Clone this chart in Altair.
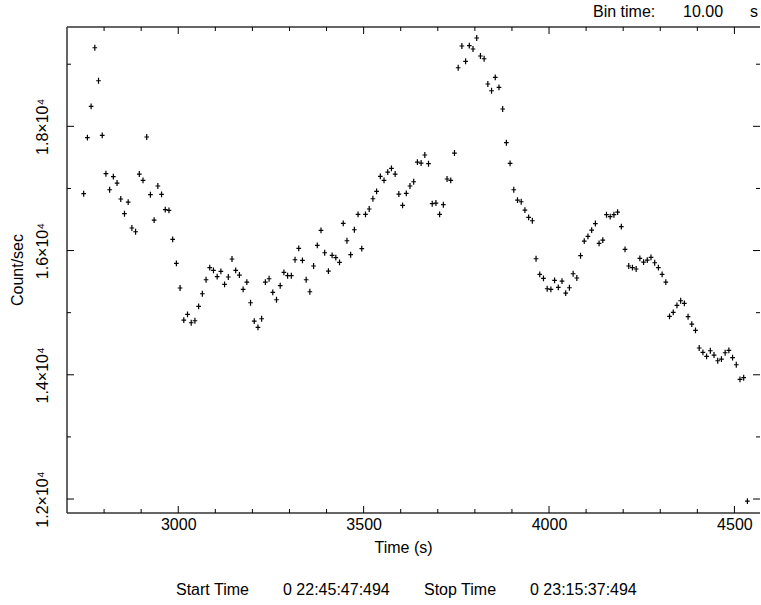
import altair as alt
import pandas as pd

# ---- data -----------------------------------------------------------
t_start = 2745          # centre of first 10 s bin
bin_time = 10
rates = [
    16915, 17817, 18322, 19265, 18734, 17855, 17237, 16979, 17189, 17087,
    16830, 16593, 16781, 16363, 16303, 17232, 17131, 17828, 16899, 16491,
    17039, 16905, 16658, 16648, 16181, 15795, 15397, 14881, 14973, 14838,
    14870, 15102, 15305, 15530, 15724, 15682, 15579, 15666, 15456, 15574,
    15864, 15682, 15606, 15376, 15493, 15160, 14865, 14764, 14902, 15493,
    15546, 15327, 15208, 15434, 15649, 15595, 15595, 15852, 16036, 15843,
    15530, 15337, 15751, 16084, 16326, 15965, 15670, 15923, 15885, 15810,
    16438, 16158, 15933, 16335, 16583, 16030, 16583, 16669, 16834, 16953,
    17195, 17131, 17264, 17324, 17232, 16910, 16728, 16921, 17039, 17108,
    17425, 17409, 17538, 17398, 16754, 16765, 16583, 16738, 17152, 17131,
    17570, 18943, 19293, 19047, 19298, 19245, 19422, 19132, 19088, 18681,
    18573, 18789, 18628, 18279, 17736, 17404, 16979, 16813, 16786, 16652,
    16535, 16480, 15868, 15617, 15553, 15385, 15376, 15521, 15408, 15509,
    15316, 15401, 15627, 15558, 15917, 16153, 16229, 16330, 16435, 16116,
    16169, 16577, 16545, 16577, 16620, 16384, 16020, 15751, 15724, 15703,
    15875, 15815, 15847, 15891, 15804, 15724, 15617, 15493, 14941, 15005,
    15118, 15192, 15150, 14935, 14817, 14716, 14431, 14361, 14297, 14387,
    14318, 14226, 14253, 14355, 14394, 14275, 14162, 13927, 13953, 11967,
]
times = [t_start + bin_time * i for i in range(len(rates))]

x_major = [3000, 3500, 4000, 4500]
x_minor = [2800, 2900, 3100, 3200, 3300, 3400, 3600, 3700, 3800, 3900,
           4100, 4200, 4300, 4400]
y_major = [12000, 14000, 16000, 18000]
y_minor = [13000, 15000, 17000, 19000]

x_title = "Time (s)"
y_title = "Count/sec"
bin_label = ["Bin time:", "10.00", "s"]
bottom_label = ["Start Time", "0 22:45:47:494", "Stop Time", "0 23:15:37:494"]

# ---- layout ---------------------------------------------------------
W, H = 693, 486
FONT = "Liberation Sans"
xs = alt.Scale(domain=[2700, 4569], nice=False, zero=False)
ys = alt.Scale(domain=[11775, 19599], nice=False, zero=False)

df = pd.DataFrame({"time": times, "rate": rates})

pts = alt.Chart(df).mark_point(
    shape="M-0.8,0H0.8M0,-1V1", size=34, filled=False,
    stroke="black", strokeWidth=1.2, opacity=1
).encode(
    x=alt.X("time:Q", scale=xs, axis=alt.Axis(
        values=x_major, ticks=False, domain=False, grid=False, title=None,
        labelFont=FONT, labelFontSize=16, labelColor="black",
        labelPadding=3, labelBaseline="top", format="d")),
    y=alt.Y("rate:Q", scale=ys, axis=alt.Axis(
        values=y_major, ticks=False, domain=False, grid=False, title=None,
        labelFont=FONT, labelFontSize=16, labelColor="black",
        labelAngle=270, labelAlign="center", labelBaseline="alphabetic",
        labelPadding=20,
        labelExpr="format(datum.value/10000, '.1f') + '×10⁴'")),
)

def xticks(vals, y0, y1):
    return alt.Chart(pd.DataFrame({"v": vals})).mark_rule(
        color="black", strokeWidth=1).encode(
        x=alt.X("v:Q", scale=xs, axis=None),
        y=alt.value(y0), y2=alt.value(y1))

def yticks(vals, x0, x1):
    return alt.Chart(pd.DataFrame({"v": vals})).mark_rule(
        color="black", strokeWidth=1).encode(
        y=alt.Y("v:Q", scale=ys, axis=None),
        x=alt.value(x0), x2=alt.value(x1))

one = pd.DataFrame({"a": [0]})
frame_col = "#333333"
frame = [
    alt.Chart(one).mark_rule(color=frame_col, strokeWidth=1.5).encode(
        x=alt.value(0), x2=alt.value(W), y=alt.value(H)),
    alt.Chart(one).mark_rule(color=frame_col, strokeWidth=1.5).encode(
        x=alt.value(0), x2=alt.value(W), y=alt.value(0)),
    alt.Chart(one).mark_rule(color=frame_col, strokeWidth=1.5).encode(
        x=alt.value(0), y=alt.value(0), y2=alt.value(H)),
]

ticks = [
    xticks(x_major, H, H - 7), xticks(x_minor, H, H - 4),
    xticks(x_major, 0, 7), xticks(x_minor, 0, 4),
    yticks(y_major, 0, 7), yticks(y_minor, 0, 4),
    yticks(y_major, W, W - 7), yticks(y_minor, W, W - 4),
]

def label(txt, x, y, align="left", angle=0):
    return alt.Chart(pd.DataFrame({"t": [txt]})).mark_text(
        font=FONT, fontSize=16, color="black", align=align,
        baseline="middle", angle=angle).encode(
        text="t:N", x=alt.value(x), y=alt.value(y))

texts = [
    label(x_title, W / 2 - 10, H + 35, align="center"),
    label(y_title, -49, H / 2, align="center", angle=270),
    label(bin_label[0], 526, -15),
    label(bin_label[1], 616, -15),
    label(bin_label[2], 683, -15),
    label(bottom_label[0], 109, H + 77),
    label(bottom_label[1], 216, H + 77),
    label(bottom_label[2], 357, H + 77),
    label(bottom_label[3], 463, H + 77),
]

chart = alt.layer(pts, *frame, *ticks, *texts).resolve_axis(
    x="independent", y="independent"
).properties(
    width=W, height=H,
    padding={"left": 67, "top": 27, "right": 1, "bottom": 92},
    autosize=alt.AutoSizeParams(type="none"),
    background="white",
).configure_view(stroke=None)

chart.save("out.html", embed_options={"renderer": "svg", "actions": False})
